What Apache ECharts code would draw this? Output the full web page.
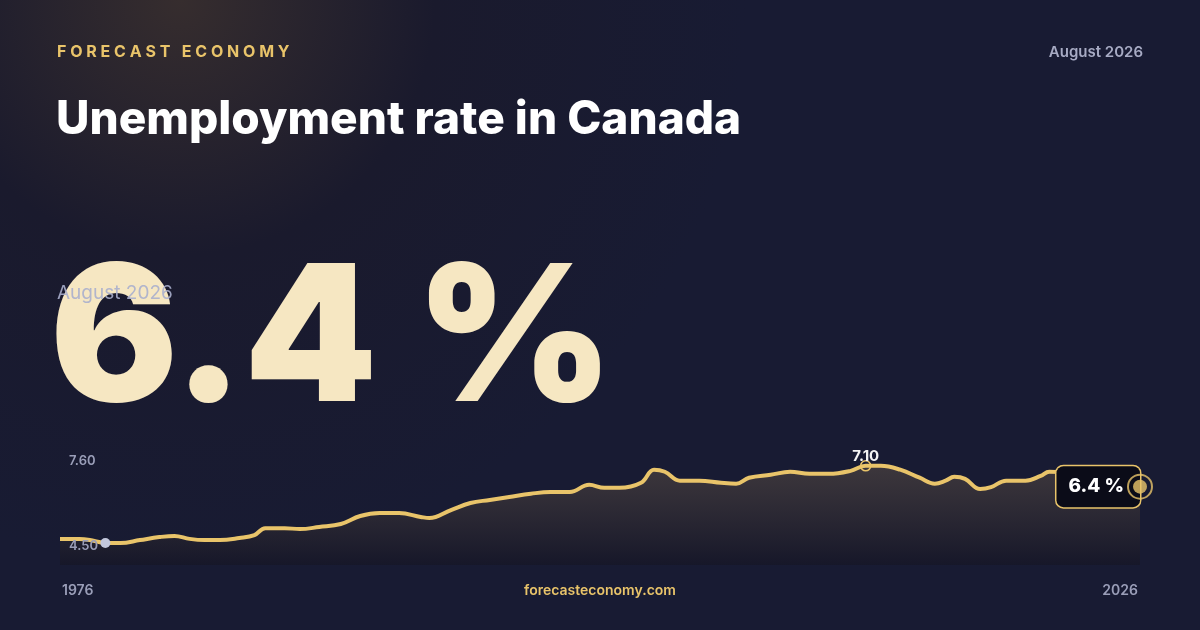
<!DOCTYPE html>
<html>
<head>
<meta charset="utf-8">
<script src="https://cdn.jsdelivr.net/npm/echarts@6/dist/echarts.min.js"></script>
<style>
html,body{margin:0;padding:0;background:#161a30;}
#main{width:1200px;height:630px;}
</style>
</head>
<body>
<div id="main"></div>
<script>
var years = [1976.0,1976.9,1977.6,1978.1,1978.8,1979.7,1980.6,1981.3,1982.0,1982.7,1983.4,1984.3,1985.0,1985.5,1986.4,1987.1,1988.0,1989.0,1989.9,1990.8,1991.7,1992.7,1993.1,1994.1,1995.0,1995.9,1996.8,1997.8,1998.7,1999.6,2000.5,2001.2,2001.9,2002.9,2003.5,2004.0,2004.7,2005.6,2006.6,2007.3,2007.9,2008.9,2009.8,2010.7,2011.6,2012.6,2013.3,2014.0,2014.9,2015.8,2016.5,2017.0,2017.4,2017.9,2018.6,2019.1,2019.8,2020.7,2021.4,2021.8,2023.0,2024.5,2025.3,2026.0];
var rates = [4.64,4.64,4.57,4.50,4.50,4.60,4.70,4.74,4.64,4.60,4.60,4.67,4.77,5.00,5.00,4.97,5.04,5.14,5.41,5.51,5.51,5.38,5.34,5.61,5.85,5.95,6.05,6.16,6.22,6.22,6.46,6.36,6.36,6.53,6.97,6.90,6.60,6.60,6.53,6.50,6.70,6.80,6.90,6.83,6.83,6.93,7.10,7.10,6.97,6.70,6.50,6.60,6.73,6.66,6.32,6.38,6.60,6.60,6.76,6.90,6.85,6.65,6.50,6.40];
var yTicks = ['7.60', '4.50'];
var minIdx = 3, maxIdx = 46, lastIdx = rates.length - 1;

var pts = years.map(function (y, i) { return [y, rates[i]]; });
var chart = echarts.init(document.getElementById('main'));
var gold = '#e9c46a';
var font = 'Inter, "Noto Sans", sans-serif';
var big = {text: '6.4 %', font: '900 190px ' + font};

chart.setOption({
  backgroundColor: {
    type: 'radial', x: 0.15, y: 0, r: 0.9,
    colorStops: [{offset: 0, color: '#362d2e'}, {offset: 0.45, color: '#1a1a2d'}, {offset: 1, color: '#181b33'}]
  },
  animation: false,
  grid: {left: 60, right: 60, top: 451, bottom: 65},
  xAxis: {type: 'value', min: 1976, max: 2026, show: false},
  yAxis: {type: 'value', min: 3.76, max: 7.6, show: false},
  graphic: [
    {type: 'text', left: 57, top: 44, style: {text: 'F O R E C A S T   E C O N O M Y', fill: gold, font: '700 16px ' + font}},
    {type: 'text', right: 57, top: 45, style: {text: 'August 2026', fill: '#a7abc4', font: '600 15px ' + font}},
    {type: 'text', left: 56, top: 97, style: {text: 'Unemployment rate in Canada', fill: '#ffffff', font: '800 46px ' + font}},
    {type: 'text', left: 50, top: 249, z: 10, style: {
      text: big.text, font: big.font, fill: '#f6e7c2',
      shadowColor: 'rgba(0,0,0,0.5)', shadowBlur: 20, shadowOffsetY: 6
    }},
    {type: 'text', left: 57, top: 284, z: 11, style: {text: 'August 2026', fill: 'rgba(170,175,205,0.9)', font: '400 19px ' + font}},
    {type: 'text', left: 69, top: 455, style: {text: yTicks[0], fill: '#9a9eb8', font: '600 13px ' + font}},
    {type: 'text', left: 69, top: 540, z: 5, style: {text: yTicks[1], fill: '#9a9eb8', font: '600 13px ' + font}},
    {type: 'text', left: 62, top: 584, style: {text: '1976', fill: '#9a9eb8', font: '600 14px ' + font}},
    {type: 'text', right: 62, top: 584, style: {text: '2026', fill: '#9a9eb8', font: '600 14px ' + font}},
    {type: 'text', left: 'center', top: 584, style: {text: 'forecasteconomy.com', fill: gold, font: '600 14px ' + font}}
  ],
  series: [{
    type: 'line', data: pts, smooth: 0.4, symbol: 'none',
    lineStyle: {color: gold, width: 4},
    areaStyle: {color: {type: 'linear', x: 0, y: 0, x2: 0, y2: 1, colorStops: [{offset: 0, color: 'rgba(120,100,75,0.55)'}, {offset: 1, color: 'rgba(20,18,28,0.6)'}]}},
    markPoint: {
      data: [
        {coord: pts[minIdx], symbol: 'circle', symbolSize: 10, itemStyle: {color: '#c3c7dc'}, label: {show: false}},
        {coord: pts[maxIdx], symbol: 'circle', symbolSize: 10, itemStyle: {color: 'rgba(0,0,0,0)', borderColor: gold, borderWidth: 1.5},
          label: {show: true, position: 'top', distance: -4, formatter: rates[maxIdx].toFixed(2), color: '#f4f4f4', fontFamily: font, fontWeight: 700, fontSize: 15}},
        {coord: pts[lastIdx], symbol: 'circle', symbolSize: 16, itemStyle: {color: 'rgba(0,0,0,0)'},
          label: {show: true, position: 'left', distance: -8, formatter: rates[lastIdx] + ' %', color: '#ffffff', fontFamily: font, fontWeight: 800, fontSize: 19,
            backgroundColor: '#0b0c18', borderColor: gold, borderWidth: 1.5, borderRadius: 7, padding: [11, 16, 11, 12]}}
      ]
    }
  }, {
    type: 'scatter', data: [pts[lastIdx]], symbol: 'circle', symbolSize: 24, z: 10, zlevel: 1,
    itemStyle: {color: 'rgba(0,0,0,0)', borderColor: gold, borderWidth: 2}, silent: true
  }, {
    type: 'scatter', data: [pts[lastIdx]], symbol: 'circle', symbolSize: 14, z: 11, zlevel: 1,
    itemStyle: {color: gold}, silent: true
  }]
});
</script>
</body>
</html>
